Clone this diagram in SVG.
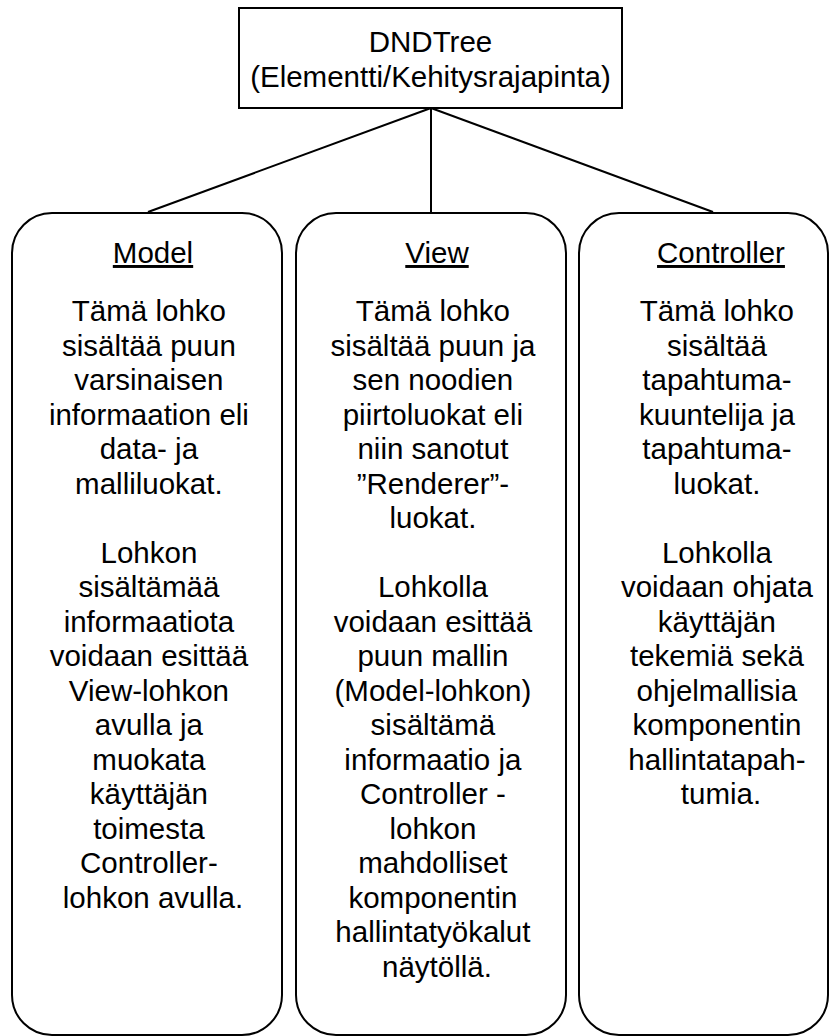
<svg xmlns="http://www.w3.org/2000/svg" width="840" height="1036" viewBox="0 0 840 1036">
<style>
  .box { fill: #ffffff; stroke: #000000; stroke-width: 2; }
  .conn { stroke: #000000; stroke-width: 2; fill: none; }
  text { font-family: "Liberation Sans", Arial, sans-serif; font-size: 29.5px; fill: #000000; text-anchor: middle; }
  .hd { text-decoration: underline; }
</style>
<rect width="840" height="1036" fill="#ffffff"/>
<g id="connectors">
  <line class="conn" x1="431" y1="108" x2="148" y2="212"/>
  <line class="conn" x1="431" y1="108" x2="431" y2="212"/>
  <line class="conn" x1="431" y1="108" x2="713" y2="212"/>
</g>
<g id="root">
  <rect class="box" x="239" y="8" width="383" height="100"/>
  <text x="430.5" y="52">DNDTree</text>
  <text x="430.5" y="87">(Elementti/Kehitysrajapinta)</text>
</g>
<g id="model">
  <rect class="box" x="12" y="213" width="270" height="822" rx="40" ry="40"/>
  <text class="hd" x="153" y="263">Model</text>
  <text x="153" y="321">
    <tspan x="153" dy="0">Tämä lohko</tspan>
    <tspan x="153" dy="34.5">sisältää puun</tspan>
    <tspan x="153" dy="34.5">varsinaisen</tspan>
    <tspan x="153" dy="34.5">informaation eli</tspan>
    <tspan x="153" dy="34.5">data- ja</tspan>
    <tspan x="153" dy="34.5">malliluokat.</tspan>
    <tspan x="153" dy="69">Lohkon</tspan>
    <tspan x="153" dy="34.5">sisältämää</tspan>
    <tspan x="153" dy="34.5">informaatiota</tspan>
    <tspan x="153" dy="34.5">voidaan esittää</tspan>
    <tspan x="153" dy="34.5">View-lohkon</tspan>
    <tspan x="153" dy="34.5">avulla ja</tspan>
    <tspan x="153" dy="34.5">muokata</tspan>
    <tspan x="153" dy="34.5">käyttäjän</tspan>
    <tspan x="153" dy="34.5">toimesta</tspan>
    <tspan x="153" dy="34.5">Controller-</tspan>
    <tspan x="153" dy="34.5">lohkon avulla.</tspan>
  </text>
</g>
<g id="view">
  <rect class="box" x="296" y="213" width="270" height="822" rx="40" ry="40"/>
  <text class="hd" x="437" y="263">View</text>
  <text x="437" y="321">
    <tspan x="437" dy="0">Tämä lohko</tspan>
    <tspan x="437" dy="34.5">sisältää puun ja</tspan>
    <tspan x="437" dy="34.5">sen noodien</tspan>
    <tspan x="437" dy="34.5">piirtoluokat eli</tspan>
    <tspan x="437" dy="34.5">niin sanotut</tspan>
    <tspan x="437" dy="34.5">”Renderer”-</tspan>
    <tspan x="437" dy="34.5">luokat.</tspan>
    <tspan x="437" dy="69">Lohkolla</tspan>
    <tspan x="437" dy="34.5">voidaan esittää</tspan>
    <tspan x="437" dy="34.5">puun mallin</tspan>
    <tspan x="437" dy="34.5">(Model-lohkon)</tspan>
    <tspan x="437" dy="34.5">sisältämä</tspan>
    <tspan x="437" dy="34.5">informaatio ja</tspan>
    <tspan x="437" dy="34.5">Controller -</tspan>
    <tspan x="437" dy="34.5">lohkon</tspan>
    <tspan x="437" dy="34.5">mahdolliset</tspan>
    <tspan x="437" dy="34.5">komponentin</tspan>
    <tspan x="437" dy="34.5">hallintatyökalut</tspan>
    <tspan x="437" dy="34.5">näytöllä.</tspan>
  </text>
</g>
<g id="controller">
  <rect class="box" x="579" y="213" width="249" height="822" rx="40" ry="40"/>
  <text class="hd" x="721" y="263">Controller</text>
  <text x="721" y="321">
    <tspan x="721" dy="0">Tämä lohko</tspan>
    <tspan x="721" dy="34.5">sisältää</tspan>
    <tspan x="721" dy="34.5">tapahtuma-</tspan>
    <tspan x="721" dy="34.5">kuuntelija ja</tspan>
    <tspan x="721" dy="34.5">tapahtuma-</tspan>
    <tspan x="721" dy="34.5">luokat.</tspan>
    <tspan x="721" dy="69">Lohkolla</tspan>
    <tspan x="721" dy="34.5">voidaan ohjata</tspan>
    <tspan x="721" dy="34.5">käyttäjän</tspan>
    <tspan x="721" dy="34.5">tekemiä sekä</tspan>
    <tspan x="721" dy="34.5">ohjelmallisia</tspan>
    <tspan x="721" dy="34.5">komponentin</tspan>
    <tspan x="721" dy="34.5">hallintatapah-</tspan>
    <tspan x="721" dy="34.5">tumia.</tspan>
  </text>
</g>
</svg>
